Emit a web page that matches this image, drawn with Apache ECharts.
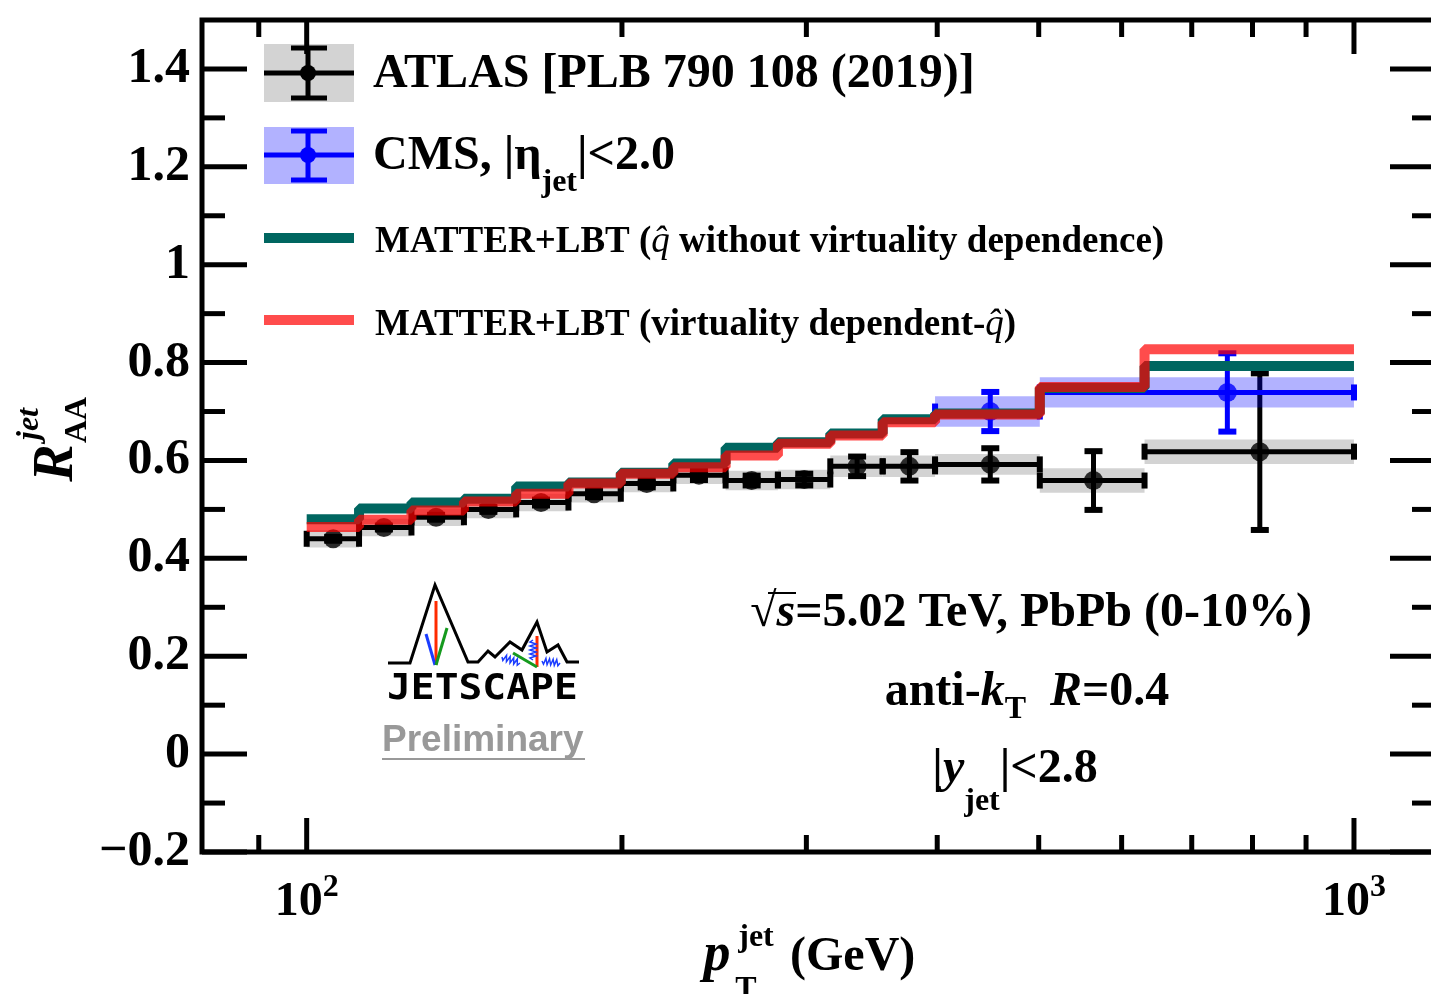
<!DOCTYPE html>
<html>
<head>
<meta charset="utf-8">
<script src="https://cdn.jsdelivr.net/npm/echarts@6/dist/echarts.min.js"></script>
<style>
html, body { margin: 0; padding: 0; background: #fff; overflow: hidden; }
#chart { width: 1440px; height: 994px; }
</style>
</head>
<body>
<div id="chart"></div>
<script>
// pT bin edges (GeV), shared by ATLAS and the MATTER+LBT histograms
var binEdges = [100, 112.2, 125.9, 141.3, 158.5, 177.8, 199.5, 223.9, 251.2, 281.8, 316.2, 354.8, 398.1, 501.2, 631.0, 1000];

// ATLAS [PLB 790 108 (2019)]
var atlasX = [106.0, 118.5, 132.9, 149.1, 167.4, 188.1, 211.2, 236.9, 266.0, 298.6, 335.4, 376.3, 449.5, 564, 813];
var atlasY = [0.440, 0.463, 0.484, 0.500, 0.514, 0.532, 0.553, 0.570, 0.559, 0.561, 0.588, 0.588, 0.592, 0.559, 0.618];
var atlasStat = [0.004, 0.004, 0.005, 0.005, 0.006, 0.007, 0.008, 0.010, 0.010, 0.012, 0.020, 0.029, 0.033, 0.060, 0.160];
var atlasSys = [0.018, 0.018, 0.018, 0.018, 0.018, 0.018, 0.018, 0.018, 0.020, 0.020, 0.022, 0.022, 0.021, 0.025, 0.025];

// CMS |eta_jet|<2.0
var cmsEdges = [398.1, 501.2, 1000];
var cmsX = [449.5, 757];
var cmsY = [0.700, 0.739];
var cmsStat = [0.040, 0.080];
var cmsSys = [0.031, 0.031];

// MATTER+LBT, one value per bin
var matterLbt = [0.480, 0.502, 0.514, 0.522, 0.547, 0.555, 0.575, 0.594, 0.626, 0.637, 0.655, 0.684, 0.696, 0.748, 0.793];
var matterLbtVirt = [0.464, 0.479, 0.498, 0.516, 0.532, 0.553, 0.573, 0.586, 0.610, 0.634, 0.651, 0.678, 0.694, 0.750, 0.827];

// axis ticks
var yMajorTicks = [-0.2, 0, 0.2, 0.4, 0.6, 0.8, 1.0, 1.2, 1.4];
var yMinorTicks = [-0.1, 0.1, 0.3, 0.5, 0.7, 0.9, 1.1, 1.3];
var xMajorTicks = [100, 1000];
var xMinorTicks = [90, 200, 300, 400, 500, 600, 700, 800, 900];

var X_MIN = 79.44, X_MAX = 1195, Y_MIN = -0.2, Y_MAX = 1.5;
var SERIF = '"Liberation Serif", "Times New Roman", serif';
var TEAL = '#006660';
var RED = 'rgba(255,0,0,0.7)';
var BLUE = '#0000ff';

var chart = echarts.init(document.getElementById('chart'));

function boxRenderer(fill) {
    return function (params, api) {
        var y = api.value(2), s = api.value(3);
        var a = api.coord([api.value(0), y + s]);
        var b = api.coord([api.value(1), y - s]);
        return {
            type: 'rect',
            shape: { x: a[0], y: a[1], width: b[0] - a[0], height: b[1] - a[1] },
            style: { fill: fill }
        };
    };
}

function barRenderer(color) {
    return function (params, api) {
        var x = api.value(0), y = api.value(1), e = api.value(4);
        var c = api.coord([x, y]);
        var l = api.coord([api.value(2), y]);
        var r = api.coord([api.value(3), y]);
        var t = api.coord([x, y + e]);
        var b = api.coord([x, y - e]);
        var st = { stroke: color, lineWidth: 5 };
        var cap = { stroke: color, lineWidth: 6 };
        return {
            type: 'group',
            children: [
                { type: 'line', shape: { x1: l[0], y1: c[1], x2: r[0], y2: c[1] }, style: st },
                { type: 'line', shape: { x1: l[0], y1: c[1] - 8, x2: l[0], y2: c[1] + 8 }, style: cap },
                { type: 'line', shape: { x1: r[0], y1: c[1] - 8, x2: r[0], y2: c[1] + 8 }, style: cap },
                { type: 'line', shape: { x1: c[0], y1: t[1], x2: c[0], y2: b[1] }, style: st },
                { type: 'line', shape: { x1: c[0] - 9, y1: t[1], x2: c[0] + 9, y2: t[1] }, style: cap },
                { type: 'line', shape: { x1: c[0] - 9, y1: b[1], x2: c[0] + 9, y2: b[1] }, style: cap }
            ]
        };
    };
}

function stepData(vals) {
    var d = vals.map(function (v, i) { return [binEdges[i], v]; });
    d.push([binEdges[vals.length], vals[vals.length - 1]]);
    return d;
}

var atlasBoxes = atlasY.map(function (y, i) { return [binEdges[i], binEdges[i + 1], y, atlasSys[i]]; });
var atlasBars = atlasX.map(function (x, i) { return [x, atlasY[i], binEdges[i], binEdges[i + 1], atlasStat[i]]; });
var cmsBoxes = cmsY.map(function (y, i) { return [cmsEdges[i], cmsEdges[i + 1], y, cmsSys[i]]; });
var cmsBars = cmsX.map(function (x, i) { return [x, cmsY[i], cmsEdges[i], cmsEdges[i + 1], cmsStat[i]]; });

var yTickData = yMajorTicks.map(function (v) { return [X_MIN, v, 45]; })
    .concat(yMinorTicks.map(function (v) { return [X_MIN, v, 23]; }));
var xTickData = xMajorTicks.map(function (v) { return [v, Y_MIN, 34]; })
    .concat(xMinorTicks.map(function (v) { return [v, Y_MIN, 17]; }));

function spring(x1, y1, x2, y2, n, amp) {
    var pts = [], dx = x2 - x1, dy = y2 - y1, len = Math.sqrt(dx * dx + dy * dy);
    var nx = -dy / len, ny = dx / len;
    for (var i = 0; i <= n * 2; i++) {
        var f = i / (n * 2), s = (i === 0 || i === n * 2) ? 0 : (i % 2 ? amp : -amp);
        pts.push([x1 + dx * f + nx * s, y1 + dy * f + ny * s]);
    }
    return { type: 'polyline', shape: { points: pts }, style: { stroke: '#1a3cff', lineWidth: 1.5, fill: null } };
}

function gline(x1, y1, x2, y2, color, w) {
    return { type: 'line', shape: { x1: x1, y1: y1, x2: x2, y2: y2 }, style: { stroke: color, lineWidth: w } };
}

function gtext(x, y, text, font, opts) {
    var st = { text: text, font: font, fill: '#000', align: 'left', verticalAlign: 'middle' };
    var el = { type: 'text', x: x, y: y, style: st };
    if (opts) {
        for (var k in opts) {
            if (k === 'rotation' || k === 'scaleX') el[k] = opts[k]; else st[k] = opts[k];
        }
    }
    return el;
}

function rs(extra) {
    var o = { fontFamily: SERIF, fontWeight: 'bold', fontSize: 48, fill: '#000' };
    for (var k in extra) o[k] = extra[k];
    return o;
}

var graphics = [
    // legend
    { type: 'rect', shape: { x: 264, y: 44, width: 90, height: 58 }, style: { fill: '#d3d3d3' } },
    gline(264, 73, 354, 73, '#000', 5),
    gline(308, 48, 308, 98, '#000', 5),
    gline(291, 48, 327, 48, '#000', 5),
    gline(291, 98, 327, 98, '#000', 5),
    { type: 'circle', shape: { cx: 308, cy: 73, r: 8 }, style: { fill: '#000' } },
    { type: 'rect', shape: { x: 264, y: 127, width: 90, height: 57 }, style: { fill: 'rgba(0,0,255,0.3)' } },
    gline(264, 155, 354, 155, BLUE, 5),
    gline(308, 131, 308, 180, BLUE, 5),
    gline(291, 131, 327, 131, BLUE, 5),
    gline(291, 180, 327, 180, BLUE, 5),
    { type: 'circle', shape: { cx: 308, cy: 155, r: 8 }, style: { fill: BLUE } },
    gline(264, 238, 354, 238, TEAL, 10),
    gline(264, 320, 354, 320, RED, 10),
    gtext(373, 75, 'ATLAS [PLB 790 108 (2019)]', 'bold 48px ' + SERIF),
    gtext(373, 157, '{b|CMS, |η}{sub|jet}{b||<2.0}', 'bold 48px ' + SERIF, {
        rich: { b: rs({}), sub: rs({ fontSize: 32, padding: [52, 0, 0, 0] }) }
    }),
    gtext(375, 242, '{b|MATTER+LBT (}{q|q\u0302}{b| without virtuality dependence)}', 'bold 37px ' + SERIF, {
        rich: { b: rs({ fontSize: 37 }), q: rs({ fontSize: 37, fontWeight: 'normal', fontStyle: 'italic' }) }
    }),
    gtext(375, 325, '{b|MATTER+LBT (virtuality dependent-}{q|q\u0302}{b|)}', 'bold 37px ' + SERIF, {
        rich: { b: rs({ fontSize: 37 }), q: rs({ fontSize: 37, fontWeight: 'normal', fontStyle: 'italic' }) }
    }),
    // annotation
    gtext(1031, 614, '{b|√}{i|s}{b|=5.02 TeV, PbPb (0-10%)}', 'bold 48px ' + SERIF, {
        align: 'center', rich: { b: rs({}), i: rs({ fontStyle: 'italic' }) }
    }),
    gline(768, 593, 796, 593, '#000', 2),
    gtext(1027, 693, '{b|anti-}{i|k}{sub|T}{b|  }{i|R}{b|=0.4}', 'bold 48px ' + SERIF, {
        align: 'center', rich: { b: rs({}), i: rs({ fontStyle: 'italic' }), sub: rs({ fontSize: 32, padding: [34, 0, 0, 0] }) }
    }),
    gtext(1015, 770, '{b||}{i|y}{sub|jet}{b||<2.8}', 'bold 48px ' + SERIF, {
        align: 'center', rich: { b: rs({}), i: rs({ fontStyle: 'italic' }), sub: rs({ fontSize: 32, padding: [64, 0, 0, 0] }) }
    }),
    // axis titles
    gtext(717, 956, 'p', 'bold italic 54px ' + SERIF, { align: 'center' }),
    gtext(756, 938, 'jet', 'bold 32px ' + SERIF, { align: 'center' }),
    gtext(746, 990, 'T', 'bold 32px ' + SERIF, { align: 'center' }),
    gtext(790, 958, '(GeV)', 'bold 48px ' + SERIF),
    gtext(58, 463, 'R', 'bold italic 56px ' + SERIF, { align: 'center', rotation: Math.PI / 2 }),
    gtext(30, 424, 'jet', 'bold italic 32px ' + SERIF, { align: 'center', rotation: Math.PI / 2 }),
    gtext(78, 420, 'AA', 'bold 32px ' + SERIF, { align: 'center', rotation: Math.PI / 2 }),
    // JETSCAPE logo
    { type: 'polyline', shape: { points: [[388, 663], [410, 663], [435, 585], [468, 662], [478, 662], [488, 651], [495, 657], [510, 642], [522, 650], [537, 622], [547, 652], [558, 645], [567, 662], [579, 662]] },
      style: { stroke: '#000', lineWidth: 3, fill: null } },
    gline(436, 601, 436, 665, '#ff2a00', 3),
    gline(426, 634, 435, 665, '#1a3cff', 3),
    gline(447, 628, 436, 665, '#159a1e', 3),
    gline(537, 636, 537, 667, '#ff2a00', 3),
    gline(513, 653, 537, 667, '#159a1e', 3),
    spring(502, 657, 520, 663, 5, 3),
    spring(533, 640, 533, 660, 5, 3),
    spring(542, 661, 560, 663, 5, 3),
    gtext(387, 690, 'JETSCAPE', 'bold 36px "DejaVu Sans Mono", monospace', { scaleX: 1.1 }),
    gtext(382, 741, 'Preliminary', 'bold 37px "Liberation Sans", Arial, sans-serif', { fill: '#999999' }),
    gline(382, 759, 585, 759, '#999999', 2)
];

var option = {
    animation: false,
    backgroundColor: '#fff',
    grid: { left: 202, top: 20, right: 5, bottom: 142, show: true, borderColor: '#000', borderWidth: 5 },
    xAxis: {
        type: 'log', logBase: 10, min: X_MIN, max: X_MAX,
        axisLine: { show: false }, axisTick: { show: false }, splitLine: { show: false },
        axisLabel: {
            margin: 21,
            formatter: function (v) {
                var e = Math.round(Math.log10(v));
                if (Math.abs(Math.log10(v) - e) > 1e-6) return '';
                return '{b|10}{s|' + e + '}';
            },
            rich: {
                b: { fontFamily: SERIF, fontWeight: 'bold', fontSize: 48, lineHeight: 60, color: '#000' },
                s: { fontFamily: SERIF, fontWeight: 'bold', fontSize: 32, lineHeight: 32, padding: [0, 0, 30, 0], color: '#000' }
            }
        }
    },
    yAxis: {
        type: 'value', min: Y_MIN, max: Y_MAX, interval: 0.2,
        axisLine: { show: false }, axisTick: { show: false }, splitLine: { show: false },
        axisLabel: {
            margin: 12, color: '#000', fontFamily: SERIF, fontWeight: 'bold', fontSize: 50,
            formatter: function (v) {
                if (v > 1.45) return '';
                var r = Math.round(v * 10) / 10;
                if (r === 0) return '0';
                if (r === 1) return '1';
                return (r < 0 ? '\u2212' : '') + Math.abs(r).toFixed(1);
            }
        }
    },
    graphic: graphics,
    series: [
        { name: 'ATLAS sys', type: 'custom', data: atlasBoxes, encode: { x: [0, 1], y: 2 }, renderItem: boxRenderer('#d3d3d3') },
        { name: 'ATLAS stat', type: 'custom', data: atlasBars, encode: { x: 0, y: 1 }, renderItem: barRenderer('#000') },
        { name: 'ATLAS', type: 'scatter', symbol: 'circle', symbolSize: 19, itemStyle: { color: '#000' },
          data: atlasX.map(function (x, i) { return [x, atlasY[i]]; }) },
        { name: 'CMS sys', type: 'custom', data: cmsBoxes, encode: { x: [0, 1], y: 2 }, renderItem: boxRenderer('rgba(0,0,255,0.3)') },
        { name: 'CMS stat', type: 'custom', data: cmsBars, encode: { x: 0, y: 1 }, renderItem: barRenderer(BLUE) },
        { name: 'CMS', type: 'scatter', symbol: 'circle', symbolSize: 19, itemStyle: { color: BLUE },
          data: cmsX.map(function (x, i) { return [x, cmsY[i]]; }) },
        { name: 'MATTER+LBT', type: 'line', step: 'end', showSymbol: false, data: stepData(matterLbt),
          lineStyle: { color: TEAL, width: 10 } },
        { name: 'MATTER+LBT virt', type: 'line', step: 'end', showSymbol: false, data: stepData(matterLbtVirt),
          lineStyle: { color: RED, width: 10 } },
        { name: 'yticks', type: 'custom', data: yTickData, encode: { x: 0, y: 1 }, z: 10,
          renderItem: function (params, api) {
              var cs = params.coordSys, p = api.coord([api.value(0), api.value(1)]), len = api.value(2);
              var st = { stroke: '#000', lineWidth: 5 };
              return { type: 'group', children: [
                  { type: 'line', shape: { x1: cs.x, y1: p[1], x2: cs.x + len, y2: p[1] }, style: st },
                  { type: 'line', shape: { x1: cs.x + cs.width, y1: p[1], x2: cs.x + cs.width - len, y2: p[1] }, style: st }
              ] };
          } },
        { name: 'xticks', type: 'custom', data: xTickData, encode: { x: 0, y: 1 }, z: 10,
          renderItem: function (params, api) {
              var cs = params.coordSys, p = api.coord([api.value(0), api.value(1)]), len = api.value(2);
              var st = { stroke: '#000', lineWidth: 5 };
              return { type: 'group', children: [
                  { type: 'line', shape: { x1: p[0], y1: cs.y + cs.height, x2: p[0], y2: cs.y + cs.height - len }, style: st },
                  { type: 'line', shape: { x1: p[0], y1: cs.y, x2: p[0], y2: cs.y + len }, style: st }
              ] };
          } }
    ]
};

chart.setOption(option);
</script>
</body>
</html>
